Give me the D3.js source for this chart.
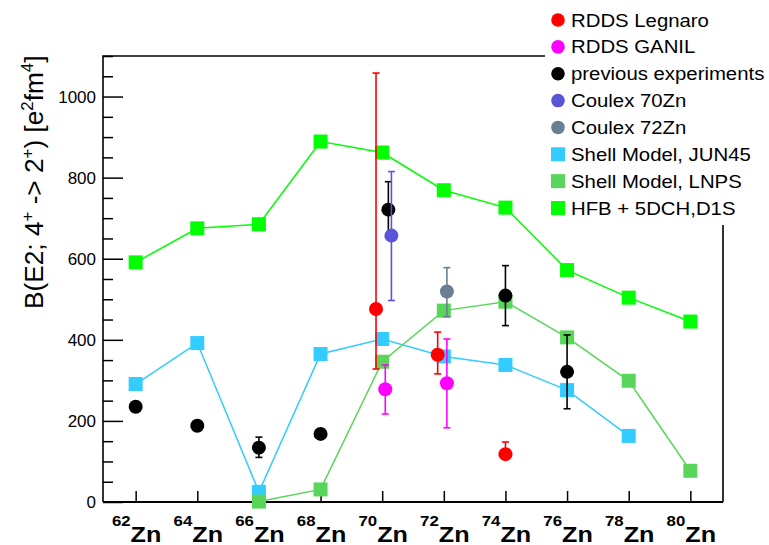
<!DOCTYPE html>
<html>
<head>
<meta charset="utf-8">
<script src="https://cdn.jsdelivr.net/npm/d3@7"></script>
<style>
  html, body { margin: 0; padding: 0; background: #fff; }
  svg { display: block; font-family: "Liberation Sans", Arial, Helvetica, sans-serif; }
</style>
</head>
<body>
<svg id="chart" width="769" height="545"></svg>
<script>
// Isotope tick positions (mass number A of ^A Zn)
const massTicks = [62, 64, 66, 68, 70, 72, 74, 76, 78, 80];
const yTicksMajor = [0, 200, 400, 600, 800, 1000];

// Theory: HFB + 5DCH, D1S
const hfbMass = [62, 64, 66, 68, 70, 72, 74, 76, 78, 80];
const hfbVal  = [591, 675, 685, 889, 862, 769, 726, 572, 504, 445];

// Theory: Shell Model, JUN45
const jun45Mass = [62, 64, 66, 68, 70, 72, 74, 76, 78];
const jun45Val  = [291, 392, 25, 365, 402, 359, 338, 276, 163];

// Theory: Shell Model, LNPS
const lnpsMass = [66, 68, 70, 72, 74, 76, 78, 80];
const lnpsVal  = [1, 31, 346, 472, 494, 406, 299, 77];

// Measurements (mass slightly shifted to separate overlapping points)
const legnaroMass = [69.8, 71.8, 74];
const legnaroVal  = [476, 363, 118];
const legnaroUp   = [582, 56, 30];
const legnaroDn   = [148, 47, 8];

const ganilMass = [70.1, 72.1];
const ganilVal  = [278, 293];
const ganilUp   = [60, 109];
const ganilDn   = [61, 110];

const prevMass = [62, 64, 66, 68, 70.2, 74, 76];
const prevVal  = [235, 188, 134, 168, 721, 509, 321];
const prevUp   = [0, 0, 26, 0, 69, 74, 91];
const prevDn   = [0, 0, 24, 0, 69, 74, 91];

const coulex70Mass = [70.3];
const coulex70Val  = [657];
const coulex70Up   = [158];
const coulex70Dn   = [160];

const coulex72Mass = [72.1];
const coulex72Val  = [519];
const coulex72Up   = [59];
const coulex72Dn   = [62];

const legendLabels = ["RDDS Legnaro", "RDDS GANIL", "previous experiments", "Coulex 70Zn",
                      "Coulex 72Zn", "Shell Model, JUN45", "Shell Model, LNPS", "HFB + 5DCH,D1S"];

// Colours
const C = {
  legnaro: "#ff0000", ganil: "#ff00ff", prev: "#000000",
  coulex70: "#5a55d8", coulex72: "#6a7f94",
  jun45: "#33ccff", lnps: "#59d659", hfb: "#00ff00"
};

const svg = d3.select("#chart");
const plotL = 103, plotR = 723, plotT = 56, plotB = 502;

const x = d3.scaleLinear().domain([60.94, 81.06]).range([plotL, plotR]);
const y = d3.scaleLinear().domain([0, 1100]).range([plotB, plotT]);

// Frame (left, top, right)
svg.append("path")
  .attr("d", `M${plotL},${plotB} V${plotT} H${plotR} V${plotB}`)
  .attr("fill", "none").attr("stroke", "#000").attr("stroke-width", 1.6);

// Y axis: major + minor ticks drawn inward
const yAxis = d3.axisRight(y).tickValues(d3.range(0, 1101, 50))
  .tickSize(10).tickFormat("");
const gy = svg.append("g").attr("transform", `translate(${plotL},0)`).call(yAxis);
gy.select(".domain").remove();
gy.selectAll(".tick line")
  .attr("x2", d => (d % 200 === 0 ? 20 : 10))
  .attr("stroke", "#000").attr("stroke-width", 1.5);

gy.selectAll(".tick").filter(d => yTicksMajor.includes(d))
  .append("text")
  .attr("x", -7).attr("dy", "0.35em")
  .attr("text-anchor", "end")
  .attr("fill", "#000")
  .attr("font-size", 17)
  .text(d => d);

// X axis: ticks inward at each isotope
const xAxis = d3.axisTop(x).tickValues(massTicks).tickSize(11).tickFormat("");
const gx = svg.append("g").attr("transform", `translate(0,${plotB})`).call(xAxis);
gx.select(".domain").remove();
gx.selectAll(".tick line").attr("stroke", "#000").attr("stroke-width", 1.5);

// Bottom axis line
svg.append("line").attr("x1", plotL).attr("x2", plotR).attr("y1", plotB).attr("y2", plotB)
  .attr("stroke", "#000").attr("stroke-width", 2);

// Isotope labels ^A Zn
massTicks.forEach(m => {
  const t = svg.append("text")
    .attr("transform", `translate(${x(m) + 1},541.5) scale(1.12,1)`)
    .attr("text-anchor", "middle")
    .attr("font-weight", "bold");
  t.append("tspan").attr("font-size", 15).attr("dy", "-15.5").text(m);
  t.append("tspan").attr("font-size", 22.5).attr("dy", "15.5").text("Zn");
});

// Y axis title
const yt = svg.append("text")
  .attr("transform", "translate(43,309) rotate(-90) scale(1.05,1)")
  .attr("font-size", 25).attr("fill", "#000");
yt.append("tspan").text("B(E2; 4");
yt.append("tspan").attr("font-size", 16).attr("dy", -10).text("+");
yt.append("tspan").attr("dy", 10).text(" -> 2");
yt.append("tspan").attr("font-size", 16).attr("dy", -10).text("+");
yt.append("tspan").attr("dy", 10).text(") [e");
yt.append("tspan").attr("font-size", 16).attr("dy", -10).text("2");
yt.append("tspan").attr("dy", 10).text("fm");
yt.append("tspan").attr("font-size", 16).attr("dy", -10).text("4");
yt.append("tspan").attr("dy", 10).text("]");

// Model curves with square markers
const line = d3.line().x(d => x(d[0])).y(d => y(d[1]));
const SQ = 14;
function model(mass, vals, color) {
  const pts = mass.map((m, i) => [m, vals[i]]);
  svg.append("path").datum(pts).attr("d", line)
    .attr("fill", "none").attr("stroke", color).attr("stroke-width", 1.5);
  svg.append("g").selectAll("rect").data(pts).join("rect")
    .attr("x", d => x(d[0]) - SQ / 2).attr("y", d => y(d[1]) - SQ / 2)
    .attr("width", SQ).attr("height", SQ).attr("fill", color);
}
model(hfbMass, hfbVal, C.hfb);
model(jun45Mass, jun45Val, C.jun45);
model(lnpsMass, lnpsVal, C.lnps);

// Measured points with asymmetric error bars
const R = 7, CAP = 3.5;
function measured(mass, vals, up, dn, color) {
  const g = svg.append("g");
  mass.forEach((m, i) => {
    if (up[i] > 0 || dn[i] > 0) {
      const cx = x(m), y1 = y(vals[i] + up[i]), y2 = y(vals[i] - dn[i]);
      g.append("line").attr("x1", cx).attr("x2", cx).attr("y1", y1).attr("y2", y2)
        .attr("stroke", color).attr("stroke-width", 1.6);
      [y1, y2].forEach(yy => g.append("line")
        .attr("x1", cx - CAP).attr("x2", cx + CAP).attr("y1", yy).attr("y2", yy)
        .attr("stroke", color).attr("stroke-width", 1.6));
    }
  });
  g.selectAll("circle").data(mass).join("circle")
    .attr("cx", d => x(d)).attr("cy", (d, i) => y(vals[i])).attr("r", R)
    .attr("fill", color);
}
measured(legnaroMass, legnaroVal, legnaroUp, legnaroDn, C.legnaro);
measured(ganilMass, ganilVal, ganilUp, ganilDn, C.ganil);
measured(prevMass, prevVal, prevUp, prevDn, C.prev);
measured(coulex70Mass, coulex70Val, coulex70Up, coulex70Dn, C.coulex70);
measured(coulex72Mass, coulex72Val, coulex72Up, coulex72Dn, C.coulex72);

// Legend
const legend = svg.append("g");
legend.append("rect").attr("x", 545).attr("y", 0).attr("width", 224).attr("height", 225).attr("fill", "#fff");
const legColors = [C.legnaro, C.ganil, C.prev, C.coulex70, C.coulex72, C.jun45, C.lnps, C.hfb];
const legRow = d3.scaleLinear().domain([0, 7]).range([20, 208]);
legendLabels.forEach((lab, i) => {
  const cy = legRow(i);
  if (i < 5) {
    legend.append("circle").attr("cx", 558).attr("cy", cy).attr("r", 6.8).attr("fill", legColors[i]);
  } else {
    legend.append("rect").attr("x", 551).attr("y", cy - 7).attr("width", 14).attr("height", 14)
      .attr("fill", legColors[i]);
  }
  legend.append("text")
    .attr("transform", `translate(571,${cy + 6.5}) scale(1.1,1)`)
    .attr("font-size", 18.5).attr("fill", "#000").text(lab);
});
</script>
</body>
</html>
